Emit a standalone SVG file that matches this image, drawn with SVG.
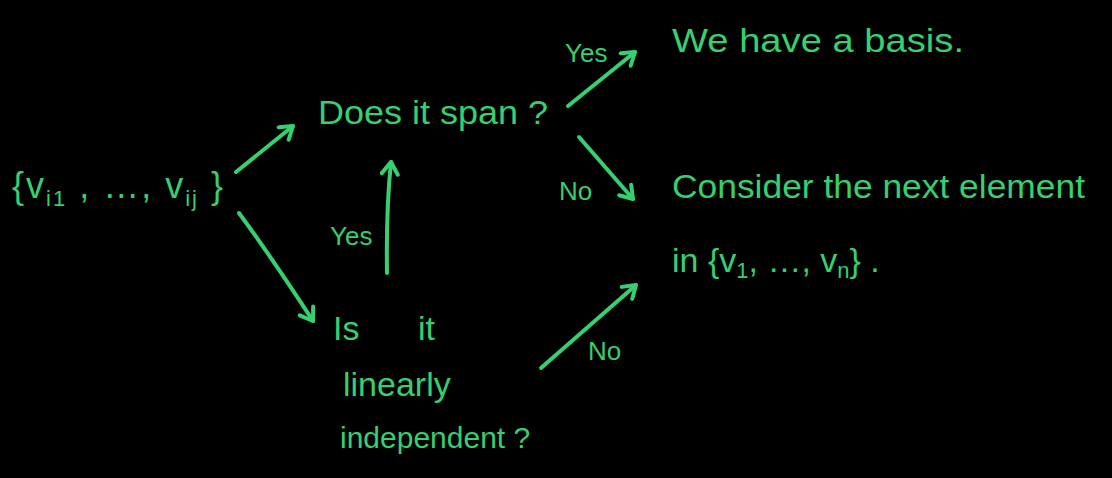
<svg xmlns="http://www.w3.org/2000/svg" width="1112" height="478" viewBox="0 0 1112 478">
<defs>
<style>
text{font-family:"Liberation Sans","DejaVu Sans",sans-serif;fill:#35d06f}
.big{font-size:34px}
.lab{font-size:26px}
.sub{font-size:22px}
.c{fill:none;stroke:#35d06f;stroke-width:4;stroke-linecap:round;stroke-linejoin:round}
</style>
<marker id="ah" viewBox="0 0 20 20" refX="16" refY="10" markerWidth="20" markerHeight="20" markerUnits="userSpaceOnUse" orient="auto">
<path d="M4,2 L16,10 L4,18" fill="none" stroke="#35d06f" stroke-width="4" stroke-linecap="round" stroke-linejoin="round"/>
</marker>
</defs>
<rect width="1112" height="478" fill="#000"/>
<g id="connectors">
<path class="c" d="M236,172 L293,126" marker-end="url(#ah)"/>
<path class="c" d="M239,213 Q272,258 313,321" marker-end="url(#ah)"/>
<path class="c" d="M387,273 Q386,210 391,162" marker-end="url(#ah)"/>
<path class="c" d="M568,106 L635,52" marker-end="url(#ah)"/>
<path class="c" d="M579,137 L633,199" marker-end="url(#ah)"/>
<path class="c" d="M541,368 L636,285" marker-end="url(#ah)"/>
</g>
<g id="start"><text class="big" x="12" y="198" style="font-size:36px;letter-spacing:2px">{v<tspan class="sub" dy="8">i1</tspan><tspan dy="-8"> , …, v</tspan><tspan class="sub" dy="8">ij</tspan><tspan dy="-8"> }</tspan></text></g>
<g id="span"><text class="big" x="318" y="124" textLength="230" lengthAdjust="spacingAndGlyphs">Does it span ?</text></g>
<g id="indep">
<text class="big" x="333" y="340">Is</text>
<text class="big" x="418" y="340">it</text>
<text class="big" x="343" y="396">linearly</text>
<text class="big" x="340" y="448" style="font-size:30px">independent ?</text>
</g>
<g id="basis"><text class="big" x="672" y="52" textLength="292" lengthAdjust="spacingAndGlyphs">We have a basis.</text></g>
<g id="next">
<text class="big" x="672" y="198" textLength="413" lengthAdjust="spacingAndGlyphs">Consider the next element</text>
<text class="big" x="672" y="272">in {v<tspan class="sub" dy="6">1</tspan><tspan dy="-6">, …, v</tspan><tspan class="sub" dy="6">n</tspan><tspan dy="-6">} .</tspan></text>
</g>
<g id="labels">
<text class="lab" x="565" y="62">Yes</text>
<text class="lab" x="559" y="200">No</text>
<text class="lab" x="330" y="245">Yes</text>
<text class="lab" x="588" y="360">No</text>
</g>
</svg>
